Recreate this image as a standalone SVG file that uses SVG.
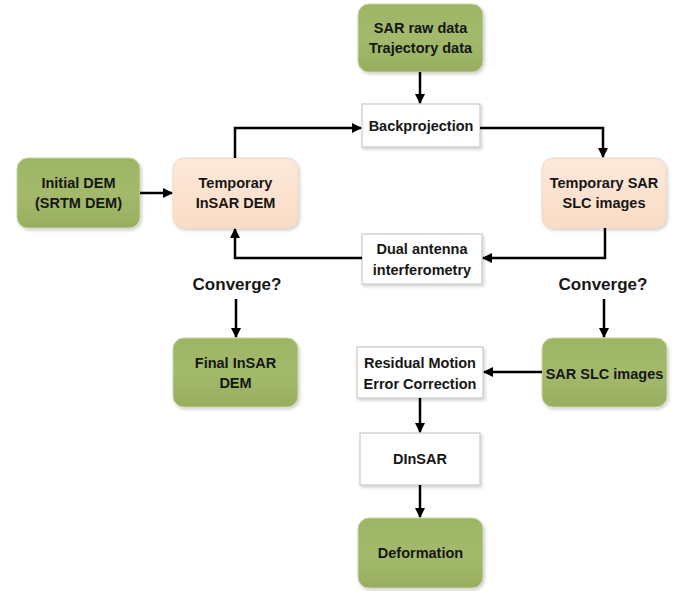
<svg xmlns="http://www.w3.org/2000/svg" width="685" height="591" viewBox="0 0 685 591">
<defs>
<linearGradient id="gGreen" x1="0" y1="0" x2="0" y2="1">
<stop offset="0" stop-color="#9db564"/>
<stop offset="0.5" stop-color="#a3ba6c"/>
<stop offset="1" stop-color="#98ae5f"/>
</linearGradient>
<linearGradient id="gPeach" x1="0" y1="0" x2="0" y2="1">
<stop offset="0" stop-color="#fde9da"/>
<stop offset="1" stop-color="#fbdcc5"/>
</linearGradient>
<filter id="sh" x="-10%" y="-10%" width="125%" height="130%">
<feDropShadow dx="1.5" dy="2" stdDeviation="1.5" flood-color="#000" flood-opacity="0.18"/>
</filter>
<marker id="ah" viewBox="0 0 10 10" refX="9" refY="5" markerWidth="10" markerHeight="10" markerUnits="userSpaceOnUse" orient="auto">
<path d="M0,0 L10,5 L0,10 z" fill="#000"/>
</marker>
</defs>
<style>
.green{fill:url(#gGreen);stroke:#c8d3a8;stroke-width:1;filter:url(#sh)}
.peach{fill:url(#gPeach);stroke:#ecd6c4;stroke-width:1;filter:url(#sh)}
.white{fill:#ffffff;stroke:#c8c8c8;stroke-width:1.2;filter:url(#sh)}
.t{font-family:"Liberation Sans",Arial,sans-serif;font-weight:bold;font-size:14.5px;fill:#161616;text-anchor:middle}
.big{font-size:17px}
.c{fill:none;stroke:#000;stroke-width:2.5;marker-end:url(#ah)}
</style>
<rect width="685" height="591" fill="#ffffff"/>
<g id="sar-raw">
<rect class="green" x="358" y="4" width="125" height="68" rx="11"/>
<text class="t" x="420.5" y="33">SAR raw data</text>
<text class="t" x="420.5" y="53">Trajectory data</text>
</g>
<g id="backprojection">
<rect class="white" x="362" y="104" width="118" height="43"/>
<text class="t" x="421" y="131">Backprojection</text>
</g>
<g id="initial-dem">
<rect class="green" x="17" y="158" width="123" height="70" rx="11"/>
<text class="t" x="78.5" y="188">Initial DEM</text>
<text class="t" x="78.5" y="208">(SRTM DEM)</text>
</g>
<g id="temp-insar-dem">
<rect class="peach" x="173" y="158" width="125" height="70" rx="11"/>
<text class="t" x="235.5" y="188">Temporary</text>
<text class="t" x="235.5" y="208">InSAR DEM</text>
</g>
<g id="temp-sar-slc">
<rect class="peach" x="542" y="158" width="124" height="70" rx="11"/>
<text class="t" x="604" y="188">Temporary SAR</text>
<text class="t" x="604" y="208">SLC images</text>
</g>
<g id="dual-antenna">
<rect class="white" x="362" y="234" width="120" height="50"/>
<text class="t" x="422" y="254">Dual antenna</text>
<text class="t" x="422" y="275">interferometry</text>
</g>
<g id="converge-left">
<text class="t big" x="237" y="290">Converge?</text>
</g>
<g id="converge-right">
<text class="t big" x="603" y="290">Converge?</text>
</g>
<g id="final-insar-dem">
<rect class="green" x="173" y="338" width="125" height="69" rx="11"/>
<text class="t" x="235.5" y="368">Final InSAR</text>
<text class="t" x="235.5" y="388">DEM</text>
</g>
<g id="sar-slc">
<rect class="green" x="542" y="338" width="125" height="69" rx="11"/>
<text class="t" x="604.5" y="379">SAR SLC images</text>
</g>
<g id="residual-motion">
<rect class="white" x="357" y="347" width="126" height="51"/>
<text class="t" x="420" y="368">Residual Motion</text>
<text class="t" x="420" y="389">Error Correction</text>
</g>
<g id="dinsar">
<rect class="white" x="360" y="433" width="120" height="52"/>
<text class="t" x="420" y="464">DInSAR</text>
</g>
<g id="deformation">
<rect class="green" x="358" y="518" width="125" height="70" rx="11"/>
<text class="t" x="420.5" y="558">Deformation</text>
</g>
<g id="connectors">
<path class="c" d="M420,72 V103"/>
<path class="c" d="M140,193 H172"/>
<path class="c" d="M235,158 V128 H361"/>
<path class="c" d="M480,128 H603 V157"/>
<path class="c" d="M605,228 V258 H483"/>
<path class="c" d="M362,258 H235 V229"/>
<path class="c" d="M236,299 V337"/>
<path class="c" d="M604,299 V337"/>
<path class="c" d="M542,372 H484"/>
<path class="c" d="M420,398 V432"/>
<path class="c" d="M420,485 V517"/>
</g>
</svg>
